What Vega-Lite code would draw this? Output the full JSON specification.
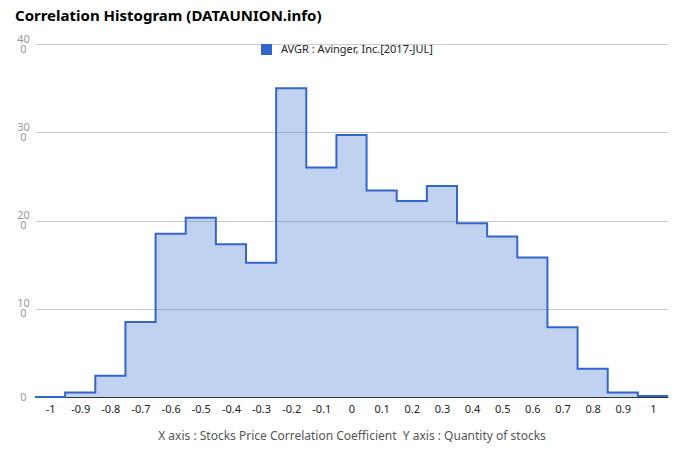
{
  "$schema": "https://vega.github.io/schema/vega-lite/v6.json",
  "width": 633,
  "height": 353,
  "autosize": {"type": "none"},
  "padding": {"left": 35, "top": 44, "right": 12, "bottom": 65},
  "background": "white",
  "config": {
    "font": "Noto Sans",
    "view": {"stroke": null}
  },
  "title": {
    "text": "Correlation Histogram (DATAUNION.info)",
    "anchor": "start",
    "frame": "group",
    "fontSize": 15,
    "fontWeight": "bold",
    "color": "#000000",
    "dx": -20,
    "offset": 9
  },
  "data": {
    "values": [
      {"bin_start": -1.05, "bin_end": -0.95, "count": 0},
      {"bin_start": -0.95, "bin_end": -0.85, "count": 5},
      {"bin_start": -0.85, "bin_end": -0.75, "count": 24},
      {"bin_start": -0.75, "bin_end": -0.65, "count": 85},
      {"bin_start": -0.65, "bin_end": -0.55, "count": 185},
      {"bin_start": -0.55, "bin_end": -0.45, "count": 203},
      {"bin_start": -0.45, "bin_end": -0.35, "count": 173},
      {"bin_start": -0.35, "bin_end": -0.25, "count": 152},
      {"bin_start": -0.25, "bin_end": -0.15, "count": 350},
      {"bin_start": -0.15, "bin_end": -0.05, "count": 260},
      {"bin_start": -0.05, "bin_end": 0.05, "count": 297},
      {"bin_start": 0.05, "bin_end": 0.15, "count": 234},
      {"bin_start": 0.15, "bin_end": 0.25, "count": 222},
      {"bin_start": 0.25, "bin_end": 0.35, "count": 239},
      {"bin_start": 0.35, "bin_end": 0.45, "count": 197},
      {"bin_start": 0.45, "bin_end": 0.55, "count": 182},
      {"bin_start": 0.55, "bin_end": 0.65, "count": 158},
      {"bin_start": 0.65, "bin_end": 0.75, "count": 79},
      {"bin_start": 0.75, "bin_end": 0.85, "count": 32},
      {"bin_start": 0.85, "bin_end": 0.95, "count": 5},
      {"bin_start": 0.95, "bin_end": 1.05, "count": 1}
    ]
  },
  "transform": [
    {"fold": ["bin_start", "bin_end"], "as": ["edge", "x"]}
  ],
  "encoding": {
    "x": {
      "field": "x",
      "type": "quantitative",
      "scale": {"domain": [-1.05, 1.05], "nice": false, "zero": false},
      "axis": {
        "values": [-1, -0.9, -0.8, -0.7, -0.6, -0.5, -0.4, -0.3, -0.2, -0.1, 0, 0.1, 0.2, 0.3, 0.4, 0.5, 0.6, 0.7, 0.8, 0.9, 1],
        "labelExpr": "'' + datum.value",
        "grid": false,
        "ticks": false,
        "domainColor": "#333333",
        "labelColor": "#222222",
        "labelFontSize": 11,
        "labelPadding": 6,
        "labelFlush": false,
        "labelOverlap": false,
        "title": "X axis : Stocks Price Correlation Coefficient \u00a0Y axis : Quantity of stocks",
        "titleFontWeight": "normal",
        "titleFontSize": 12,
        "titleColor": "#555555",
        "titlePadding": 16
      }
    },
    "y": {
      "field": "count",
      "type": "quantitative",
      "stack": null,
      "scale": {"domain": [0, 400], "nice": false},
      "axis": {
        "values": [0, 100, 200, 300, 400],
        "labelExpr": "datum.value > 0 ? [slice(datum.label, 0, 2), slice(datum.label, 2)] : datum.label",
        "domain": false,
        "ticks": false,
        "gridColor": "#cccccc",
        "labelColor": "#999999",
        "labelFontSize": 11,
        "labelAlign": "center",
        "labelLineHeight": 10,
        "labelOffset": {"condition": {"test": "datum.value > 0", "value": -5}, "value": 0},
        "labelPadding": 12,
        "title": null
      }
    },
    "order": [
      {"field": "x", "type": "quantitative", "sort": "ascending"},
      {"field": "edge", "type": "nominal", "sort": "ascending"}
    ]
  },
  "layer": [
    {
      "mark": {"type": "area", "opacity": 0.3, "interpolate": "linear"},
      "encoding": {
        "color": {
          "datum": "AVGR : Avinger, Inc.[2017-JUL]",
          "scale": {"range": ["#3366cc"]},
          "legend": {
            "title": null,
            "orient": "none",
            "legendX": 226,
            "legendY": 0,
            "padding": 0,
            "symbolType": "square",
            "symbolSize": 121,
            "symbolOpacity": 1,
            "symbolStrokeWidth": 0,
            "labelFontSize": 11,
            "labelColor": "#222222",
            "labelOffset": 9
          }
        }
      }
    },
    {
      "mark": {"type": "line", "color": "#3366cc", "strokeWidth": 2, "interpolate": "linear"},
      "encoding": {}
    }
  ]
}
